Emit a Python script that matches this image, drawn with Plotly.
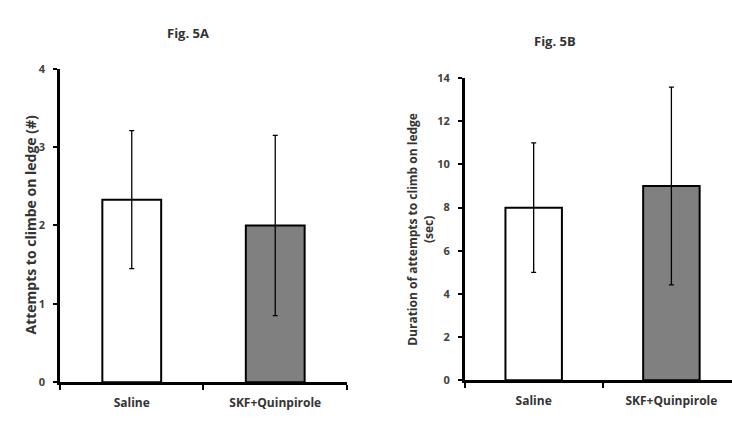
import plotly.graph_objects as go

categories = ["Saline", "SKF+Quinpirole"]
attempts = [2.33, 2.0]
attempts_err = [0.88, 1.15]
duration = [8.0, 9.0]
duration_err = [3.0, 4.58]
fills = ["white", "#808080"]

FONT = "Open Sans"
fig = go.Figure()

fig.add_trace(go.Bar(
    x=categories, y=attempts, width=0.41,
    marker=dict(color=fills, line=dict(color="black", width=2)),
    error_y=dict(type="data", array=attempts_err, color="black", thickness=1.3, width=2.5),
    xaxis="x", yaxis="y", showlegend=False))

fig.add_trace(go.Bar(
    x=categories, y=duration, width=0.41,
    marker=dict(color=fills, line=dict(color="black", width=2)),
    error_y=dict(type="data", array=duration_err, color="black", thickness=1.3, width=2.5),
    xaxis="x2", yaxis="y2", showlegend=False))

tickfont = dict(family=FONT, size=11, color="#404040", weight="bold")
catfont = dict(family=FONT, size=12, color="#333333", weight="bold")

xcommon = dict(type="category", showline=True, linecolor="black", linewidth=2.5,
               ticks="outside", tickson="boundaries", ticklen=5, tickcolor="black",
               tickwidth=2, tickfont=catfont, ticklabelstandoff=8, showgrid=False,
               zeroline=False, fixedrange=True)
ycommon = dict(showline=True, linecolor="black", linewidth=2.5, ticks="outside",
               ticklen=4, tickcolor="black", tickwidth=2, tickfont=tickfont,
               showgrid=False, zeroline=False, ticklabelstandoff=6)

fig.update_layout(
    width=732, height=422,
    margin=dict(l=0, r=0, t=0, b=0),
    paper_bgcolor="white", plot_bgcolor="white",
    bargap=0.59,
    xaxis=dict(domain=[0.082, 0.474], range=[-0.5, 1.5], anchor="y", **xcommon),
    yaxis=dict(domain=[0.0806, 0.8507], range=[0, 4], dtick=1, anchor="x", **ycommon),
    xaxis2=dict(domain=[0.635, 1.0], range=[-0.5, 1.44], anchor="y2", **xcommon),
    yaxis2=dict(domain=[0.0853, 0.8277], range=[0, 14], dtick=2, anchor="x2", **ycommon),
    annotations=[
        dict(text="Fig. 5A", x=165, y=422 - 15, xref="paper", yref="paper",
             showarrow=False, font=dict(family=FONT, size=13, color="#333333", weight="bold")),
        dict(text="Fig. 5B", x=578, y=422 - 23, xref="paper", yref="paper",
             showarrow=False, font=dict(family=FONT, size=13, color="#333333", weight="bold")),
        dict(text="Attempts to climbe on ledge (#)", x=19, y=422 - 225, textangle=-90,
             xref="paper", yref="paper", showarrow=False,
             font=dict(family=FONT, size=14, color="#333333", weight="bold")),
        dict(text="Duration of attempts to climb on ledge<br>(sec)", x=421, y=422 - 230,
             textangle=-90, xref="paper", yref="paper", showarrow=False,
             font=dict(family=FONT, size=12, color="#333333", weight="bold")),
    ],
)

# convert pixel annotation positions to paper fractions
for a in fig.layout.annotations:
    a.x = a.x / 732
    a.y = a.y / 422

fig.write_html("out.html")
